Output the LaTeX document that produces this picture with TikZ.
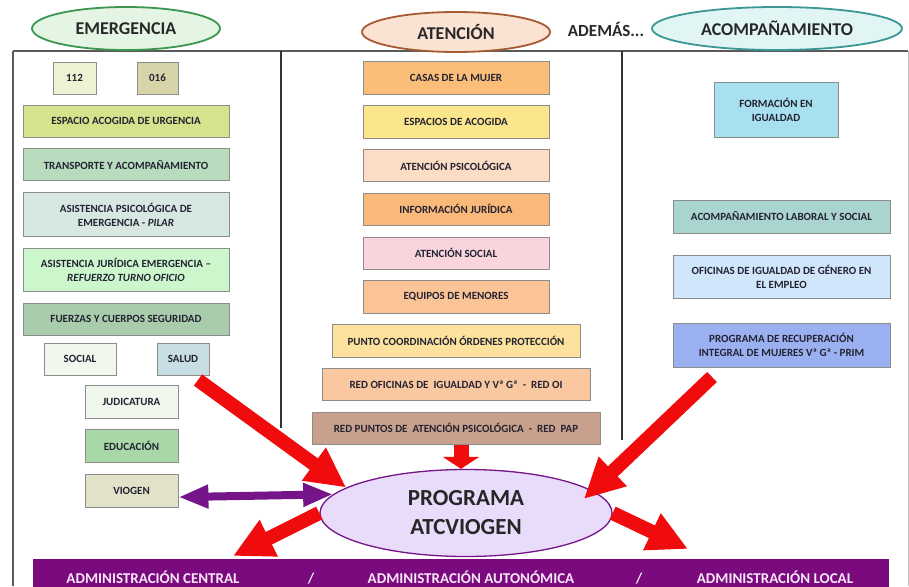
\documentclass[tikz,border=0pt]{standalone}
\usepackage{fontspec}
\setmainfont{Carlito}
\usetikzlibrary{arrows.meta,positioning,shapes.geometric}
\definecolor{boxline}{RGB}{140,140,140}
\definecolor{boxtext}{RGB}{35,35,50}
\definecolor{headtext}{RGB}{40,40,40}
\definecolor{frameline}{RGB}{90,90,90}
\definecolor{arrowred}{RGB}{240,12,12}
\definecolor{viopurple}{RGB}{118,20,138}
\definecolor{barpurple}{RGB}{122,10,126}
% left column
\definecolor{c112}{RGB}{238,242,210}
\definecolor{c016}{RGB}{216,212,170}
\definecolor{curg}{RGB}{214,227,140}
\definecolor{ctrans}{RGB}{185,220,190}
\definecolor{cpilar}{RGB}{215,232,226}
\definecolor{cjur}{RGB}{204,246,204}
\definecolor{cfuerzas}{RGB}{168,204,172}
\definecolor{csocial}{RGB}{240,248,238}
\definecolor{csalud}{RGB}{200,222,228}
\definecolor{cedu}{RGB}{168,216,168}
\definecolor{cviogen}{RGB}{226,226,200}
% middle column
\definecolor{ccasas}{RGB}{250,190,120}
\definecolor{cespacios}{RGB}{252,230,140}
\definecolor{cpsico}{RGB}{252,220,196}
\definecolor{cinfo}{RGB}{250,185,120}
\definecolor{catsocial}{RGB}{250,212,220}
\definecolor{cmenores}{RGB}{250,196,150}
\definecolor{cpunto}{RGB}{252,226,156}
\definecolor{credoi}{RGB}{250,200,160}
\definecolor{cpap}{RGB}{200,160,140}
% right column
\definecolor{cformacion}{RGB}{168,224,240}
\definecolor{claboral}{RGB}{170,212,208}
\definecolor{coficinas}{RGB}{208,230,250}
\definecolor{cprim}{RGB}{155,176,240}
\newcommand\boxfont{\fontsize{11}{14}\selectfont\bfseries}
\tikzset{
  infobox/.style={draw=boxline, line width=0.8pt, align=center, inner sep=1pt, text=boxtext, font=\boxfont},
  emerbox/.style={infobox, minimum width=206pt, minimum height=32pt},
  smallbox/.style={infobox, minimum height=32pt},
  atenbox/.style={infobox, minimum width=186pt, minimum height=32.5pt},
  acombox/.style={infobox, minimum width=217pt},
  headellipse/.style={ellipse, line width=1.8pt, inner sep=0pt, minimum height=43pt, text=headtext, font=\fontsize{18}{20}\selectfont\bfseries},
  progellipse/.style={ellipse, draw=viopurple, line width=1.3pt, fill={rgb,255:red,232;green,220;blue,250}, minimum width=292pt, minimum height=87pt, inner sep=0pt, align=center, text=black!85, font=\fontsize{23}{29}\selectfont\bfseries},
  bigarrow/.style={arrowred, line width=14pt, -{Triangle[length=40pt, width=38pt]}},
  shortarrow/.style={arrowred, line width=15pt, -{Triangle[length=12pt, width=36pt]}},
  linkarrow/.style={viopurple, line width=8pt, {Triangle[length=30pt, width=22pt]}-{Triangle[length=30pt, width=22pt]}},
  admintext/.style={anchor=base, text={rgb,255:red,248;green,230;blue,248}, font=\fontsize{15}{17}\selectfont\bfseries}
}

\begin{document}
\begin{tikzpicture}[x=1pt, y=-1pt, node distance=11pt]
  \useasboundingbox (0,0) rectangle (909,586);
  \clip (0,0) rectangle (909,586);
  \fill[white] (0,0) rectangle (909,586);

  % frame
  \draw[frameline, line width=1.5pt] (13,51) -- (908,51);
  \draw[frameline, line width=1.2pt] (13,51) -- (13,586);
  \draw[black!25, line width=1pt] (908,51) -- (908,586);
  \draw[black!80, line width=1.2pt] (281,51) -- (281,428);
  \draw[black!80, line width=1.2pt] (622,51) -- (622,440);

  % headers
  \node[headellipse, draw={rgb,255:red,60;green,150;blue,80}, fill={rgb,255:red,228;green,245;blue,228}, minimum width=188pt] (emergencia) at (126,28.5) {EMERGENCIA};
  \node[headellipse, draw={rgb,255:red,165;green,90;blue,50}, fill={rgb,255:red,251;green,227;blue,211}, minimum width=188pt, minimum height=40pt] (atencion) at (456,32) {ATENCIÓN};
  \node[text=headtext, font=\fontsize{17}{19}\selectfont\bfseries] (ademas) at (606,29) {ADEMÁS...};
  \node[headellipse, draw={rgb,255:red,60;green,150;blue,150}, fill={rgb,255:red,226;green,245;blue,245}, minimum width=250pt] (acompanamiento) at (777,28.5) {ACOMPAÑAMIENTO};

  % emergencia
  \node[smallbox, fill=c112, minimum width=43pt] (n112) at (74.5,78) {112};
  \node[smallbox, fill=c016, minimum width=41pt] (n016) at (157.5,78) {016};
  \node[emerbox, fill=curg] (urgencia) at (126,121) {ESPACIO ACOGIDA DE URGENCIA};
  \node[emerbox, fill=ctrans, below=of urgencia] (transporte) {TRANSPORTE Y ACOMPAÑAMIENTO};
  \node[emerbox, fill=cpilar, minimum height=44pt, below=of transporte] (pilar) {ASISTENCIA PSICOLÓGICA DE\\EMERGENCIA - \textit{PILAR}};
  \node[emerbox, fill=cjur, minimum height=43pt, below=of pilar] (juridica) {ASISTENCIA JURÍDICA EMERGENCIA –\\\textit{REFUERZO TURNO OFICIO}};
  \node[emerbox, fill=cfuerzas, below=of juridica] (fuerzas) {FUERZAS Y CUERPOS SEGURIDAD};
  \node[smallbox, fill=csocial, minimum width=72pt] (social) at (80,359) {SOCIAL};
  \node[smallbox, fill=csalud, minimum width=52pt] (salud) at (183,359) {SALUD};
  \node[smallbox, fill=csocial, minimum width=93pt, minimum height=33pt] (judicatura) at (131.5,401.5) {JUDICATURA};
  \node[smallbox, fill=cedu, minimum width=93pt, minimum height=33pt, below=of judicatura] (educacion) {EDUCACIÓN};
  \node[smallbox, fill=cviogen, minimum width=93pt, minimum height=33pt, below=of educacion] (viogen) {VIOGEN};

  % atencion
  \begin{scope}[node distance=10.5pt]
    \node[atenbox, fill=ccasas] (casas) at (456,78) {CASAS DE LA MUJER};
    \node[atenbox, fill=cespacios, below=of casas] (espacios) {ESPACIOS DE ACOGIDA};
    \node[atenbox, fill=cpsico, below=of espacios] (psicologica) {ATENCIÓN PSICOLÓGICA};
    \node[atenbox, fill=cinfo, below=of psicologica] (informacion) {INFORMACIÓN JURÍDICA};
    \node[atenbox, fill=catsocial, below=of informacion] (atsocial) {ATENCIÓN SOCIAL};
    \node[atenbox, fill=cmenores, below=of atsocial] (menores) {EQUIPOS DE MENORES};
    \node[atenbox, fill=cpunto, minimum width=248pt, below=of menores] (punto) {PUNTO COORDINACIÓN ÓRDENES PROTECCIÓN};
    \node[atenbox, fill=credoi, minimum width=268pt, below=of punto] (redoi) {RED OFICINAS DE~ IGUALDAD Y Vª Gª~ -~ RED OI};
    \node[atenbox, fill=cpap, minimum width=288pt, below=of redoi] (pap) {RED PUNTOS DE~ ATENCIÓN PSICOLÓGICA~ -~ RED~ PAP};
  \end{scope}

  % acompanamiento
  \node[infobox, fill=cformacion, minimum width=124pt, minimum height=55pt] (formacion) at (776,109.5) {FORMACIÓN EN\\IGUALDAD};
  \node[acombox, fill=claboral, minimum height=33pt] (laboral) at (781.5,216.5) {ACOMPAÑAMIENTO LABORAL Y SOCIAL};
  \node[acombox, fill=coficinas, minimum height=43pt] (oficinas) at (781.5,276.5) {OFICINAS DE IGUALDAD DE GÉNERO EN\\EL EMPLEO};
  \node[acombox, fill=cprim, minimum height=44pt] (prim) at (781.5,345) {PROGRAMA DE RECUPERACIÓN\\INTEGRAL DE MUJERES Vª Gª - PRIM};

  % programa y administraciones
  \node[progellipse] (prog) at (466,513) {PROGRAMA\\ATCVIOGEN};
  \node[fill=barpurple, minimum width=856pt, minimum height=44pt, inner sep=0pt] (admin) at (461,581) {};
  \node[admintext] (central) at (153,583) {ADMINISTRACIÓN CENTRAL};
  \node[admintext] (barra1) at (311,583) {/};
  \node[admintext] (autonomica) at (471,583) {ADMINISTRACIÓN AUTONÓMICA};
  \node[admintext] (barra2) at (639,583) {/};
  \node[admintext] (local) at (775,583) {ADMINISTRACIÓN LOCAL};

  \coordinate (emerpt) at (198,380);
  \coordinate (acompt) at (712,377);
  \coordinate (centralpt) at (233,556);
  \coordinate (localpt) at (688,549);

  \draw[bigarrow] (emerpt) -- (prog.168);
  \draw[shortarrow] ([xshift=5pt]pap.south) -- ([xshift=5pt]pap.south |- prog.north);
  \draw[bigarrow, shorten >=-12pt] (acompt) -- (prog.10);
  \draw[bigarrow] (prog.west) -- (centralpt);
  \draw[bigarrow] (prog.east) -- (localpt);
  \draw[linkarrow] ([yshift=-6pt]viogen.east) -- (prog.172);
\end{tikzpicture}
\end{document}
